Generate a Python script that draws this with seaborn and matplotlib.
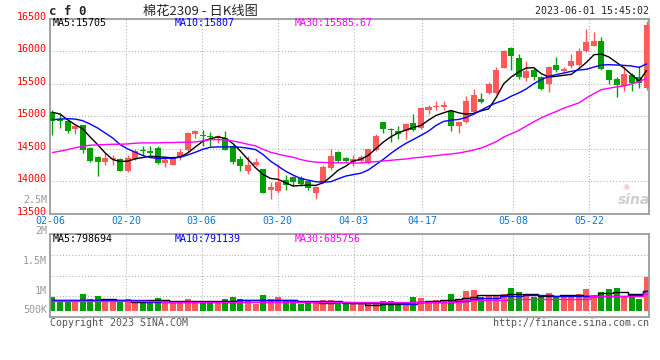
import numpy as np
import pandas as pd
import matplotlib
matplotlib.use('Agg')
import matplotlib.pyplot as plt
import seaborn as sns
from matplotlib.transforms import ScaledTranslation

# trading days shown (CF0 cotton, 2023)
dates = ['02-06', '02-07', '02-08', '02-09', '02-10', '02-13', '02-14', '02-15', '02-16', '02-17',
         '02-20', '02-21', '02-22', '02-23', '02-24', '02-27', '02-28', '03-01', '03-02', '03-03',
         '03-06', '03-07', '03-08', '03-09', '03-10', '03-13', '03-14', '03-15', '03-16', '03-17',
         '03-20', '03-21', '03-22', '03-23', '03-24', '03-27', '03-28', '03-29', '03-30', '03-31',
         '04-03', '04-04', '04-06', '04-07', '04-10', '04-11', '04-12', '04-13', '04-14', '04-17',
         '04-18', '04-19', '04-20', '04-21', '04-24', '04-25', '04-26', '04-27', '04-28', '05-04',
         '05-05', '05-08', '05-09', '05-10', '05-11', '05-12', '05-15', '05-16', '05-17', '05-18',
         '05-19', '05-22', '05-23', '05-24', '05-25', '05-26', '05-29', '05-30', '05-31', '06-01']

opens = [15070, 14950, 14932, 14800, 14858, 14515, 14372, 14298, 14338, 14342,
         14150, 14345, 14478, 14470, 14503, 14282, 14255, 14375, 14477, 14722,
         14718, 14692, 14660, 14666, 14545, 14340, 14148, 14245, 14179, 13856,
         13840, 14020, 14056, 14055, 14000, 13810, 13974, 14195, 14451, 14349,
         14295, 14315, 14275, 14475, 14910, 14800, 14770, 14770, 14890, 14820,
         15095, 15135, 15135, 15078, 14850, 14910, 15065, 15273, 15360, 15360,
         15745, 16060, 15900, 15590, 15718, 15605, 15500, 15795, 15705, 15770,
         15795, 16000, 16087, 16165, 15708, 15580, 15462, 15642, 15600, 15437]
highs = [15100, 15050, 14947, 14860, 14870, 14527, 14384, 14430, 14405, 14350,
         14400, 14488, 14540, 14535, 14548, 14370, 14385, 14500, 14752, 14785,
         14785, 14752, 14705, 14768, 14553, 14384, 14394, 14358, 14180, 13985,
         14270, 14087, 14077, 14077, 14015, 13930, 14245, 14500, 14460, 14370,
         14410, 14410, 14500, 14720, 14912, 14822, 14845, 14900, 15027, 15145,
         15180, 15242, 15232, 15100, 14925, 15320, 15427, 15360, 15525, 15760,
         16015, 16075, 15965, 15847, 15745, 15617, 15780, 15908, 15765, 15965,
         16050, 16343, 16292, 16230, 15718, 15605, 15770, 15667, 15770, 16470]
lows = [14715, 14820, 14742, 14732, 14436, 14302, 14080, 14250, 14255, 14148,
        14138, 14332, 14410, 14405, 14266, 14210, 14245, 14328, 14450, 14665,
        14540, 14537, 14590, 14476, 14271, 14148, 14102, 14235, 13810, 13717,
        13820, 13862, 13923, 13923, 13860, 13730, 13965, 14170, 14300, 14290,
        14235, 14300, 14260, 14465, 14735, 14602, 14655, 14655, 14770, 14805,
        15030, 15100, 15094, 14770, 14745, 14900, 15027, 15206, 15350, 15350,
        15740, 15710, 15575, 15540, 15555, 15400, 15370, 15677, 15680, 15745,
        15770, 15985, 16077, 15718, 15490, 15290, 15390, 15390, 15437, 15410]
closes = [14930, 14930, 14775, 14842, 14482, 14315, 14302, 14358, 14362, 14160,
          14355, 14465, 14465, 14438, 14285, 14318, 14370, 14455, 14737, 14765,
          14700, 14680, 14690, 14482, 14300, 14235, 14250, 14287, 13823, 13912,
          13992, 13936, 13990, 13958, 13887, 13912, 14220, 14384, 14313, 14313,
          14335, 14375, 14490, 14700, 14800, 14790, 14720, 14875, 14785, 15130,
          15145, 15165, 15180, 14850, 14910, 15230, 15335, 15217, 15490, 15718,
          16010, 15925, 15605, 15693, 15605, 15427, 15760, 15708, 15735, 15857,
          16010, 16138, 16155, 15730, 15555, 15478, 15657, 15514, 15514, 16410]

# moving averages as drawn on the chart
ma5 = [15060, 15034, 14947, 14870, 14809, 14681, 14563, 14435, 14333, 14302,
       14307, 14343, 14363, 14384, 14374, 14368, 14358, 14374, 14435, 14527,
       14614, 14655, 14681, 14660, 14578, 14461, 14333, 14205, 14102, 14041,
       14026, 13974, 13923, 13933, 13938, 13933, 13974, 14066, 14169, 14230,
       14310, 14336, 14397, 14500, 14602, 14684, 14746, 14787, 14828, 14858,
       14940, 15012, 15053, 15089, 15053, 15032, 15043, 15084, 15114, 15290,
       15500, 15606, 15683, 15744, 15749, 15657, 15606, 15616, 15632, 15647,
       15734, 15831, 15949, 15959, 15913, 15831, 15744, 15642, 15539, 15705]
ma10 = [14947, 14957, 14962, 14957, 14932, 14880, 14819, 14742, 14665, 14563,
        14496, 14445, 14394, 14363, 14348, 14348, 14353, 14368, 14404, 14445,
        14490, 14522, 14527, 14527, 14527, 14522, 14507, 14486, 14410, 14307,
        14230, 14153, 14092, 14041, 14015, 13990, 13985, 13990, 14036, 14077,
        14100, 14121, 14172, 14254, 14336, 14428, 14510, 14582, 14643, 14705,
        14771, 14858, 14920, 14940, 14950, 14981, 15032, 15094, 15155, 15206,
        15247, 15309, 15360, 15421, 15503, 15565, 15616, 15642, 15667, 15693,
        15713, 15724, 15759, 15790, 15795, 15790, 15785, 15775, 15754, 15807]
ma30 = [14440, 14461, 14486, 14512, 14537, 14553, 14558, 14563, 14568, 14568,
        14573, 14584, 14589, 14589, 14589, 14594, 14594, 14599, 14599, 14604,
        14620, 14640, 14640, 14635, 14619, 14594, 14568, 14543, 14490, 14445,
        14415, 14389, 14368, 14333, 14307, 14292, 14287, 14282, 14282, 14282,
        14278, 14280, 14290, 14300, 14310, 14321, 14331, 14341, 14357, 14367,
        14382, 14392, 14408, 14418, 14433, 14454, 14479, 14510, 14556, 14607,
        14680, 14730, 14781, 14848, 14915, 14976, 15027, 15073, 15125, 15166,
        15206, 15283, 15350, 15411, 15432, 15452, 15468, 15499, 15534, 15585.67]

# volume, thousands of lots
volumes = [560, 383, 383, 383, 683, 478, 601, 478, 451, 383,
           478, 383, 355, 451, 519, 383, 355, 355, 478, 355,
           355, 355, 355, 478, 560, 478, 383, 273, 642, 478,
           560, 383, 383, 273, 355, 383, 451, 451, 355, 314,
           355, 314, 314, 314, 383, 383, 314, 273, 560, 519,
           383, 451, 451, 683, 478, 820, 861, 560, 642, 642,
           683, 929, 765, 642, 560, 615, 724, 615, 560, 560,
           683, 888, 642, 765, 888, 929, 615, 560, 478, 1380]
vol_ma5 = [437, 437, 437, 451, 451, 451, 451, 478, 478, 437,
           437, 355, 355, 424, 424, 424, 396, 396, 396, 396,
           383, 383, 383, 383, 383, 451, 451, 451, 451, 451,
           451, 451, 451, 355, 355, 355, 301, 301, 355, 355,
           328, 328, 246, 246, 273, 273, 273, 301, 355, 355,
           396, 396, 424, 424, 478, 519, 574, 642, 642, 642,
           642, 670, 670, 670, 670, 615, 615, 615, 629, 629,
           629, 615, 615, 711, 711, 765, 765, 697, 697, 798.694]
vol_ma10 = [437, 437, 437, 451, 451, 451, 451, 451, 451, 451,
            451, 451, 451, 355, 355, 355, 355, 355, 355, 355,
            355, 355, 355, 355, 355, 424, 424, 424, 424, 424,
            424, 424, 424, 383, 383, 383, 383, 383, 383, 314,
            314, 314, 314, 314, 314, 314, 314, 273, 273, 355,
            355, 355, 355, 355, 410, 410, 478, 533, 533, 533,
            587, 587, 587, 642, 642, 642, 642, 615, 615, 615,
            615, 615, 615, 601, 601, 601, 601, 656, 656, 791.139]
vol_ma30 = [410, 410, 410, 410, 410, 410, 410, 410, 410, 410,
            410, 410, 410, 410, 410, 355, 355, 355, 355, 355,
            355, 355, 355, 355, 355, 355, 355, 355, 355, 355,
            355, 355, 355, 355, 355, 355, 355, 355, 355, 355,
            355, 355, 355, 355, 355, 355, 355, 355, 355, 355,
            355, 355, 355, 355, 355, 437, 437, 437, 437, 437,
            437, 492, 492, 492, 492, 492, 492, 492, 492, 492,
            492, 492, 587, 587, 587, 587, 587, 587, 587, 685.756]

tick_dates = ['02-06', '02-20', '03-06', '03-20', '04-03', '04-17', '05-08', '05-22']
price_ticks = [13500, 14000, 14500, 15000, 15500, 16000, 16500]
vol_axis_labels = ['500K', '1M', '1.5M', '2M', '2.5M']

UP = '#ff5a5a'
DOWN = '#00a000'
GRID = '#b0b0b0'
FRAME = '#9c9c9c'
MA_COLORS = ['#000000', '#0000ff', '#ff00ff']

sns.set_style('white')
plt.rcParams['font.family'] = ['DejaVu Sans Mono']
plt.rcParams['font.size'] = 7.2

df = pd.DataFrame({'date': dates, 'open': opens, 'high': highs,
                   'low': lows, 'close': closes,
                   'vol': np.array(volumes) * 1000.0})
df['x'] = np.arange(len(df))
df['dir'] = np.where(df['close'] >= df['open'], 'up', 'down')
colors = df['dir'].map({'up': UP, 'down': DOWN}).tolist()

W, H = 660, 360
fig = plt.figure(figsize=(W / 100, H / 100), dpi=100)
fig.patch.set_facecolor('white')


def box(left, top, right, bottom):
    return [left / W, 1 - bottom / H, (right - left) / W, (bottom - top) / H]


def ftext(x, y, s, **kw):
    kw.setdefault('va', 'center')
    fig.text(x / W, 1 - y / H, s, **kw)


ax = fig.add_axes(box(50, 19, 649, 213.5))
axv = fig.add_axes(box(50, 234, 649, 317.3))

# candles
ax.vlines(df['x'], df['low'], df['high'], colors=colors, lw=1, zorder=2)
body = (df['close'] - df['open']).abs().clip(lower=14)
ax.bar(df['x'], body, bottom=df[['open', 'close']].min(axis=1),
       width=0.8, color=colors, lw=0, zorder=3)

for vals, c in zip([ma5, ma10, ma30], MA_COLORS):
    sns.lineplot(x=df['x'], y=vals, color=c, lw=1, ax=ax, zorder=4)

# volume
sns.barplot(data=df, x='x', y='vol', hue='dir',
            palette={'up': UP, 'down': DOWN}, native_scale=True,
            dodge=False, width=0.8, errorbar=None, legend=False,
            saturation=1, linewidth=0, ax=axv, zorder=2)
for vals, c in zip([vol_ma5, vol_ma10, vol_ma30], MA_COLORS):
    sns.lineplot(x=df['x'], y=np.array(vals) * 1000, color=c, lw=1,
                 drawstyle='steps-mid', ax=axv, zorder=4)

# axes setup
tick_pos = [dates.index(d) * 1.0093 - 0.33 for d in tick_dates]
vol_per_px = 41000
for a in (ax, axv):
    a.set_xlim(-0.33, 79.32)
    a.set_xlabel('')
    a.set_ylabel('')
    a.set_axisbelow(True)
    a.grid(True, color=GRID, lw=0.75, ls=(0, (1, 2)))
    for s in a.spines.values():
        s.set_visible(True)
        s.set_color(FRAME)
        s.set_linewidth(1.3)

ax.set_ylim(price_ticks[0], price_ticks[-1])
ax.set_yticks(price_ticks, [str(t) for t in price_ticks])
ax.set_xticks(tick_pos, tick_dates)
ax.tick_params(axis='x', length=0, pad=1.6, labelcolor='#0a78d2', labelsize=7.2)
ax.tick_params(axis='y', length=0, pad=2.2, labelcolor='#ff0000', labelsize=7.2)
shift = ScaledTranslation(0, 0.03, fig.dpi_scale_trans)
for t in ax.get_yticklabels():
    t.set_transform(t.get_transform() + shift)

axv.set_ylim(-6.6 * vol_per_px, 76.7 * vol_per_px)
axv.set_yticks([v * vol_per_px for v in (14.4, 35.0, 55.7)], [])
axv.set_xticks(tick_pos, [])
axv.tick_params(length=0)

# header
ftext(49, 11.5, 'c f 0', fontsize=9, fontweight='bold')
ftext(200, 11, '棉花2309 - 日K线图', ha='center', fontsize=9.5,
      family=['Noto Sans CJK SC', 'DejaVu Sans'])
ftext(649, 11.5, '2023-06-01 15:45:02', ha='right')

# MA legends
ftext(53, 23.5, f'MA5:{ma5[-1]}', color=MA_COLORS[0])
ftext(175, 23.5, f'MA10:{ma10[-1]}', color=MA_COLORS[1])
ftext(295, 23.5, f'MA30:{ma30[-1]}', color=MA_COLORS[2])
ftext(53, 238.5, f'MA5:{vol_ma5[-1] * 1000:.0f}', color=MA_COLORS[0])
ftext(175, 238.5, f'MA10:{vol_ma10[-1] * 1000:.0f}', color=MA_COLORS[1])
ftext(295, 238.5, f'MA30:{vol_ma30[-1] * 1000:.0f}', color=MA_COLORS[2])

# volume scale labels (as placed on the original)
for lbl, y in zip(vol_axis_labels, [310, 291, 261, 231, 200]):
    ftext(47, y, lbl, ha='right', color='#999999')

# watermark and footer
ftext(626, 186, '◉', ha='center', fontsize=6, color='#ecc8c8', family='DejaVu Sans')
ftext(634, 200, 'sina', ha='center', fontsize=10, color='#cfcfcf',
      fontstyle='italic', fontweight='bold', family='DejaVu Sans')
ftext(50, 323, 'Copyright 2023 SINA.COM', color='#555555')
ftext(649, 323.5, 'http://finance.sina.com.cn', ha='right', color='#555555')

fig.savefig('out.png', dpi=100)
